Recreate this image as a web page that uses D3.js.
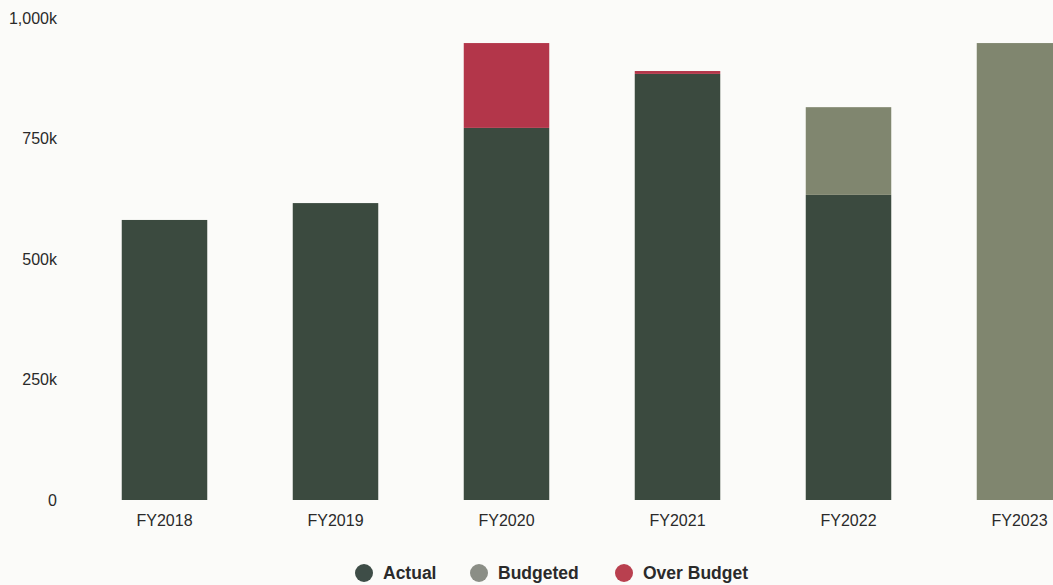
<!DOCTYPE html>
<html>
<head>
<meta charset="utf-8">
<script src="https://cdn.jsdelivr.net/npm/d3@7/dist/d3.min.js"></script>
<style>
  html, body { margin: 0; padding: 0; background: #fbfbf9; overflow: hidden; }
  svg { display: block; }
  text { font-family: "Liberation Sans", Arial, sans-serif; fill: #2a2a2a; }
</style>
</head>
<body>
<svg id="chart" width="1053" height="585"></svg>
<script>
// Fiscal years shown on the x axis
const years = ["FY2018", "FY2019", "FY2020", "FY2021", "FY2022", "FY2023"];
// Spending actually incurred (thousands)
const actual = [581, 616, 772, 884, 633, 0];
// Remaining budget not yet spent (thousands)
const budgeted = [0, 0, 0, 0, 182, 948];
// Spending above the approved budget (thousands)
const overBudget = [0, 0, 176, 6, 0, 0];
// Y axis ticks (thousands)
const yTicks = [0, 250, 500, 750, 1000];

const seriesKeys = ["Actual", "Budgeted", "Over Budget"];
const colors = { "Actual": "#3b4a3f", "Budgeted": "#80866f", "Over Budget": "#b3364a" };
const legendColors = { "Actual": "#3e4d47", "Budgeted": "#8b8e86", "Over Budget": "#b9404f" };

const rows = years.map((y, i) => ({
  year: y,
  "Actual": actual[i],
  "Budgeted": budgeted[i],
  "Over Budget": overBudget[i]
}));

const svg = d3.select("#chart");

const x = d3.scaleBand()
  .domain(years)
  .range([79, 1105])
  .paddingInner(0.5)
  .paddingOuter(0.25);

const y = d3.scaleLinear()
  .domain([0, 1000])
  .range([500, 18]);

// Y axis labels only (no line, no gridlines)
const yAxis = d3.axisLeft(y)
  .tickValues(yTicks)
  .tickSize(0)
  .tickPadding(0)
  .tickFormat(d => d === 0 ? "0" : d3.format(",")(d) + "k");

svg.append("g")
  .attr("transform", "translate(57,0)")
  .call(yAxis)
  .call(g => g.select(".domain").remove())
  .selectAll("text")
  .style("font-size", "16px")
  .style("font-family", "'Liberation Sans', Arial, sans-serif")
  .attr("fill", "#2a2a2a");

// Stacked bars
const stack = d3.stack().keys(seriesKeys);
const stacked = stack(rows);

svg.append("g")
  .selectAll("g")
  .data(stacked)
  .join("g")
  .attr("fill", d => colors[d.key])
  .selectAll("rect")
  .data(d => d)
  .join("rect")
  .attr("x", d => x(d.data.year))
  .attr("width", x.bandwidth())
  .attr("y", d => y(d[1]))
  .attr("height", d => Math.max(0, y(d[0]) - y(d[1])));

// X axis labels
const xAxis = d3.axisBottom(x).tickSize(0).tickPadding(0);
svg.append("g")
  .attr("transform", "translate(0,515)")
  .call(xAxis)
  .call(g => g.select(".domain").remove())
  .selectAll("text")
  .style("font-size", "16px")
  .style("font-family", "'Liberation Sans', Arial, sans-serif")
  .attr("fill", "#2a2a2a");

// Legend
const legendX = [364, 479, 624];
const legend = svg.append("g").attr("transform", "translate(0,573)");
seriesKeys.forEach((k, i) => {
  legend.append("circle")
    .attr("cx", legendX[i])
    .attr("cy", 0)
    .attr("r", 9)
    .attr("fill", legendColors[k]);
  legend.append("text")
    .attr("x", legendX[i] + 19)
    .attr("y", 0)
    .attr("dy", "0.35em")
    .style("font-size", "17.5px")
    .style("font-weight", "bold")
    .attr("fill", "#2f2f2f")
    .text(k);
});
</script>
</body>
</html>
